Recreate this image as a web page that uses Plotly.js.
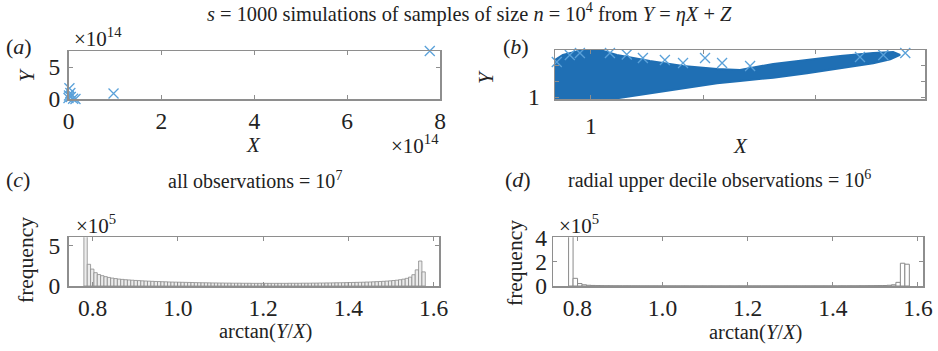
<!DOCTYPE html>
<html>
<head>
<meta charset="utf-8">
<script src="https://cdn.plot.ly/plotly-3.0.1.min.js"></script>
<style>html,body{margin:0;padding:0;background:#fff;}#chart{width:938px;height:351px;}</style>
</head>
<body>
<div id="chart"></div>
<script>
// ---------- DATA ----------
// (a) X, Y in units of 1e14
const aX = [0.00, 0.02, 0.04, 0.10, 0.15, 0.05, 0.01, 0.97, 7.78];
const aY = [0.16, 1.67, 0.94, 0.05, 0.00, 0.30, 0.55, 0.85, 7.50];
// (b) log10 outline of the dense cloud of points, and log10 of the sparse outliers
const bCloudLogX = [-1.74, -0.04, 1.16, 2.63, 4.11, 5.63, 6.65, 8.13, 9.64, 11.12, 12.59, 13.35, 13.79, 13.48, 12.59, 11.12, 9.64, 8.13, 6.65, 5.63, 4.11, 2.63, 1.16, 0.40, -0.36, -1.25, -1.61, -1.74];
const bCloudLogY = [-1.27, -1.27, -0.41, 1.17, 2.76, 4.35, 5.08, 6.13, 7.52, 9.11, 10.70, 11.97, 13.33, 14.29, 13.97, 13.02, 11.75, 10.48, 8.57, 8.89, 9.84, 11.43, 13.33, 14.92, 14.92, 13.33, 11.75, 6.98];
const bOutLogX = [-1.52, -0.94, -0.49, -0.04, 0.31, 0.85, 1.60, 2.32, 3.30, 4.11, 5.09, 5.85, 7.10, 12.00, 13.04, 14.02, 14.90];
const bOutLogY = [11.11, 13.33, 13.97, 14.92, 14.92, 13.97, 13.50, 12.38, 11.75, 10.79, 12.38, 10.79, 9.84, 12.70, 13.33, 13.97, 14.92];
// (c) histogram of arctan(Y/X), all observations, counts in units of 1e5
const cBinStart = 0.7796, cBinWidth = 0.00785;
const cFreq = [9.50, 2.69, 2.10, 1.65, 1.42, 1.28, 1.16, 1.06, 0.98, 0.92,
  0.86, 0.82, 0.78, 0.75, 0.72, 0.69, 0.67, 0.64, 0.62, 0.60,
  0.58, 0.56, 0.55, 0.53, 0.52, 0.50, 0.49, 0.48, 0.47, 0.46,
  0.45, 0.44, 0.43, 0.42, 0.41, 0.40, 0.40, 0.39, 0.38, 0.38,
  0.37, 0.37, 0.36, 0.36, 0.35, 0.35, 0.35, 0.34, 0.34, 0.34,
  0.33, 0.33, 0.33, 0.33, 0.33, 0.33, 0.33, 0.33, 0.33, 0.33,
  0.33, 0.34, 0.34, 0.34, 0.34, 0.35, 0.35, 0.35, 0.36, 0.36,
  0.37, 0.37, 0.38, 0.38, 0.39, 0.40, 0.40, 0.41, 0.42, 0.43,
  0.44, 0.45, 0.46, 0.47, 0.49, 0.50, 0.52, 0.54, 0.56, 0.58,
  0.61, 0.64, 0.68, 0.72, 0.78, 0.85, 0.95, 1.10, 1.40, 2.00,
  3.10, 1.75];
// (d) histogram of arctan(Y/X), radial upper decile, counts in units of 1e5
const dBinStart = 0.7794, dBinWidth = 0.01053;
const dFreq = [4.30, 0.63, 0.20, 0.10, 0.060, 0.045, 0.035, 0.028, 0.023, 0.020,
  0.017, 0.015, 0.014, 0.013, 0.012, 0.011, 0.010, 0.010, 0.009, 0.009,
  0.008, 0.008, 0.008, 0.007, 0.007, 0.007, 0.007, 0.006, 0.006, 0.006,
  0.006, 0.006, 0.006, 0.006, 0.006, 0.006, 0.006, 0.006, 0.006, 0.006,
  0.006, 0.006, 0.006, 0.006, 0.006, 0.006, 0.006, 0.006, 0.007, 0.007,
  0.007, 0.007, 0.007, 0.008, 0.008, 0.008, 0.009, 0.009, 0.010, 0.010,
  0.011, 0.012, 0.013, 0.015, 0.017, 0.020, 0.023, 0.025, 0.030, 0.035,
  0.040, 0.060, 0.10, 0.30, 1.87, 1.79];
const xTicksAng = [0.8, 1.0, 1.2, 1.4, 1.6];
const xTickTextAng = ['0.8', '1.0', '1.2', '1.4', '1.6'];

// ---------- helpers ----------
const W = 938, H = 351;
const fx = p => p / W, fy = p => 1 - p / H;
const centers = (start, w, n) => { const c = []; for (let i = 0; i < n; i++) c.push(start + (i + 0.5) * w); return c; };
const pow10 = a => a.map(v => Math.pow(10, v));

const SERIF = '"Liberation Serif", "Times New Roman", serif';
const TXT = '#222';
const AX = '#8e8e8e';
const blueDark = '#1f6fb4', blueLight = '#5aa1d9';

const baseAxis = {
  showline: true, mirror: 'ticks', linecolor: AX, linewidth: 1.5,
  ticks: 'inside', ticklen: 4, tickwidth: 1, tickcolor: AX,
  showgrid: false, zeroline: false, fixedrange: true,
  tickfont: {family: SERIF, size: 23.5, color: TXT},
  tickmode: 'array'
};
const ax = o => Object.assign({}, baseAxis, o);

const traces = [
  // (a)
  {type: 'scatter', mode: 'markers', x: aX, y: aY, xaxis: 'x', yaxis: 'y', cliponaxis: false,
   marker: {symbol: 'x-thin', size: 10, line: {width: 1.3, color: blueLight}}},
  // (b) dense cloud
  {type: 'scatter', mode: 'lines', x: pow10(bCloudLogX), y: pow10(bCloudLogY), xaxis: 'x2', yaxis: 'y2',
   fill: 'toself', fillcolor: blueDark, line: {color: blueDark, width: 2}},
  {type: 'scatter', mode: 'markers', x: pow10(bOutLogX), y: pow10(bOutLogY), xaxis: 'x2', yaxis: 'y2', cliponaxis: false,
   marker: {symbol: 'x-thin', size: 10, line: {width: 1.3, color: blueLight}}},
  // (c)
  {type: 'bar', x: centers(cBinStart, cBinWidth, cFreq.length), y: cFreq, width: cBinWidth, xaxis: 'x3', yaxis: 'y3',
   marker: {color: '#ececec', line: {color: '#8a8a8a', width: 0.8}}},
  // (d)
  {type: 'bar', x: centers(dBinStart, dBinWidth, dFreq.length), y: dFreq, width: dBinWidth, xaxis: 'x4', yaxis: 'y4',
   marker: {color: '#ffffff', line: {color: '#8a8a8a', width: 1}}}
];

function ann(text, x, y, o) {
  return Object.assign({text: text, x: fx(x), y: fy(y), xref: 'paper', yref: 'paper', showarrow: false,
    xanchor: 'center', yanchor: 'middle', font: {family: SERIF, size: 20, color: TXT}}, o || {});
}
const F = s => ({family: SERIF, size: s, color: TXT});

const annotations = [
  ann('<i>s</i> = 1000 simulations of samples of size <i>n</i> = 10<sup>4</sup> from <i>Y</i> = <i>ηX</i> + <i>Z</i>', 469, 13, {font: F(20.4)}),
  ann('(<i>a</i>)', 4, 46, {xanchor: 'left', font: F(22)}),
  ann('×10<sup>14</sup>', 72, 38, {xanchor: 'left', font: F(21)}),
  ann('<i>Y</i>', 27, 75, {textangle: -90, font: F(21)}),
  ann('<i>X</i>', 253, 145, {font: F(21)}),
  ann('×10<sup>14</sup>', 389, 145, {xanchor: 'left', font: F(21)}),
  ann('(<i>b</i>)', 501, 46, {xanchor: 'left', font: F(22)}),
  ann('<i>Y</i>', 486, 77, {textangle: -90, font: F(21)}),
  ann('<i>X</i>', 740, 146, {font: F(21)}),
  ann('(<i>c</i>)', 4, 180, {xanchor: 'left', font: F(22)}),
  ann('all observations = 10<sup>7</sup>', 255, 180),
  ann('×10<sup>5</sup>', 74, 224, {xanchor: 'left', font: F(21)}),
  ann('frequency', 26, 260, {textangle: -90, font: F(21.5)}),
  ann('arctan(<i>Y</i>/<i>X</i>)', 265, 331, {font: F(20.5)}),
  ann('(<i>d</i>)', 503, 180, {xanchor: 'left', font: F(22)}),
  ann('radial upper decile observations = 10<sup>6</sup>', 719, 180),
  ann('×10<sup>5</sup>', 557, 224, {xanchor: 'left', font: F(21)}),
  ann('frequency', 515, 263, {textangle: -90, font: F(21.5)}),
  ann('arctan(<i>Y</i>/<i>X</i>)', 755, 332, {font: F(20.5)})
];

const layout = {
  width: W, height: H, margin: {l: 0, r: 0, t: 0, b: 0},
  paper_bgcolor: '#fff', plot_bgcolor: '#fff', showlegend: false, bargap: 0,
  xaxis: ax({domain: [fx(68.5), fx(440)], range: [0, 8], tickvals: [0, 2, 4, 6, 8], ticktext: ['0', '2', '4', '6', '8'], anchor: 'y', ticklabelstandoff: 0}),
  yaxis: ax({domain: [fy(99), fy(51)], range: [0, 7.5], tickvals: [0, 5], ticktext: ['0', '5'], anchor: 'x', ticklabelstandoff: 2}),
  xaxis2: ax({type: 'log', domain: [fx(555), fx(925)], range: [-1.6, 14.9], tickvals: [1, 1e5, 1e10], ticktext: ['1', '', ''], anchor: 'y2', ticklabelstandoff: 5}),
  yaxis2: ax({type: 'log', domain: [fy(99), fy(50)], range: [-0.63, 14.9], tickvals: [1, 1e5, 1e10], ticktext: ['1', '', ''], anchor: 'x2', ticklabelstandoff: 9}),
  xaxis3: ax({domain: [fx(68.5), fx(439)], range: [0.7435, 1.6125], tickvals: xTicksAng, ticktext: xTickTextAng, anchor: 'y3', ticklabelstandoff: 0}),
  yaxis3: ax({domain: [fy(286), fy(237.3)], range: [0, 6.04], tickvals: [0, 5], ticktext: ['0', '5'], anchor: 'x3', ticklabelstandoff: 2}),
  xaxis4: ax({domain: [fx(553.3), fx(923.3)], range: [0.7435, 1.6125], tickvals: xTicksAng, ticktext: xTickTextAng, anchor: 'y4', ticklabelstandoff: 0}),
  yaxis4: ax({domain: [fy(286), fy(237.3)], range: [0, 4], tickvals: [0, 2, 4], ticktext: ['0', '2', '4'], anchor: 'x4', ticklabelstandoff: 0}),
  annotations: annotations
};

Plotly.newPlot('chart', traces, layout, {staticPlot: true, displayModeBar: false});
</script>
</body>
</html>
